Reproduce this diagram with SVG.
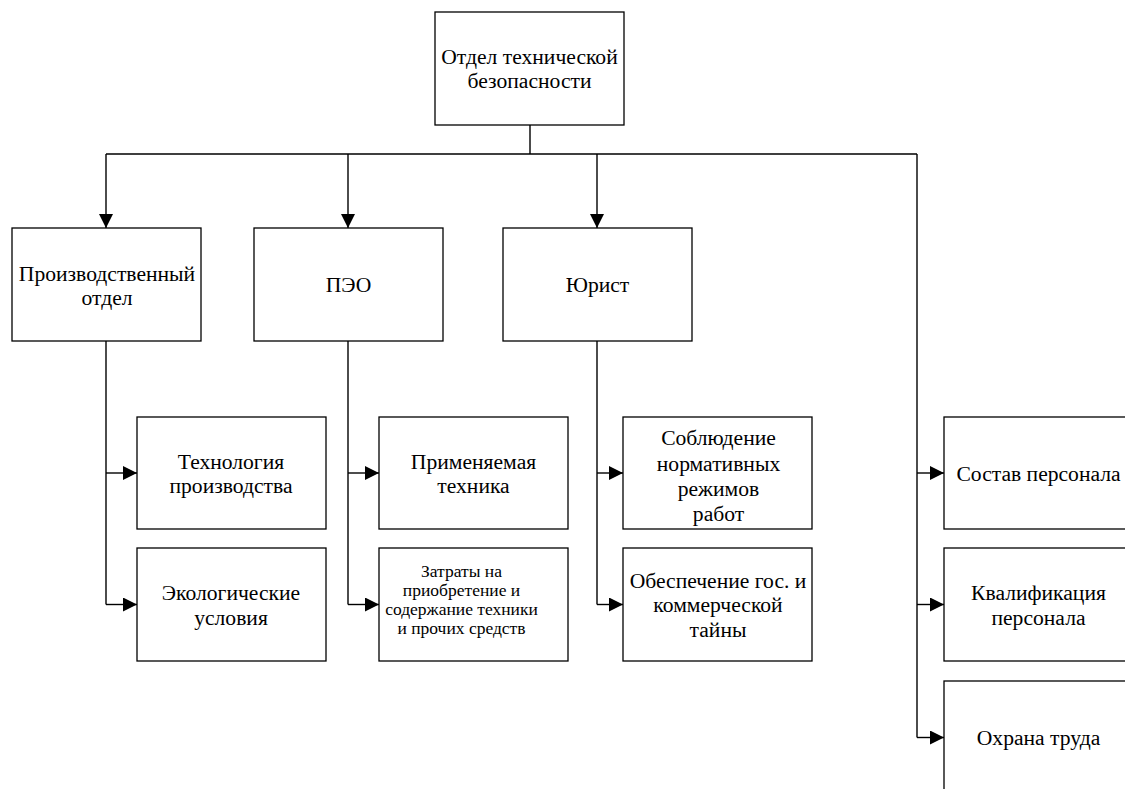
<svg xmlns="http://www.w3.org/2000/svg" width="1125" height="789" viewBox="0 0 1125 789">
<style>
.box{fill:#fff;stroke:#000;stroke-width:1.3}
.t{font-family:'Liberation Serif','Times New Roman',serif;font-size:21.6px;fill:#000;text-anchor:middle}
.s{font-size:17.5px}
.c{fill:none;stroke:#000;stroke-width:1.4}
</style>
<defs>
<marker id="arr" markerUnits="userSpaceOnUse" markerWidth="14" markerHeight="14" refX="14" refY="7" orient="auto">
<path d="M0,0 L14,7 L0,14 z" fill="#000"/>
</marker>
</defs>
<rect width="1125" height="789" fill="#fff"/>
<g id="connectors">
<path class="c" d="M530,125 V154 M106,154 H917"/>
<path class="c" d="M106,154 V228" marker-end="url(#arr)"/>
<path class="c" d="M348,154 V228" marker-end="url(#arr)"/>
<path class="c" d="M597,154 V228" marker-end="url(#arr)"/>
<path class="c" d="M917,154 V737.5"/>
<path class="c" d="M917,473 H944" marker-end="url(#arr)"/>
<path class="c" d="M917,604.5 H944" marker-end="url(#arr)"/>
<path class="c" d="M917,737.5 H944" marker-end="url(#arr)"/>
<path class="c" d="M106,341 V604.5"/>
<path class="c" d="M106,473 H137" marker-end="url(#arr)"/>
<path class="c" d="M106,604.5 H137" marker-end="url(#arr)"/>
<path class="c" d="M348,341 V604.5"/>
<path class="c" d="M348,473 H379" marker-end="url(#arr)"/>
<path class="c" d="M348,604.5 H379" marker-end="url(#arr)"/>
<path class="c" d="M597,341 V604.5"/>
<path class="c" d="M597,473 H623" marker-end="url(#arr)"/>
<path class="c" d="M597,604.5 H623" marker-end="url(#arr)"/>
</g>
<g id="root">
<rect class="box" x="435" y="12" width="189" height="113"/>
<text class="t" x="529.5" y="64">Отдел технической</text>
<text class="t" x="529.5" y="88">безопасности</text>
</g>
<g id="prod">
<rect class="box" x="12" y="228" width="189" height="113"/>
<text class="t" x="107" y="280.5">Производственный</text>
<text class="t" x="107" y="305">отдел</text>
</g>
<g id="peo">
<rect class="box" x="254" y="228" width="189" height="113"/>
<text class="t" x="348.5" y="292">ПЭО</text>
</g>
<g id="jurist">
<rect class="box" x="503" y="228" width="189" height="113"/>
<text class="t" x="597.5" y="292">Юрист</text>
</g>
<g id="tech">
<rect class="box" x="137" y="417" width="189" height="112"/>
<text class="t" x="231" y="468.5">Технология</text>
<text class="t" x="231" y="493">производства</text>
</g>
<g id="eco">
<rect class="box" x="137" y="548" width="189" height="113"/>
<text class="t" x="231" y="600">Экологические</text>
<text class="t" x="231" y="624.5">условия</text>
</g>
<g id="primen">
<rect class="box" x="379" y="417" width="189" height="112"/>
<text class="t" x="473.5" y="468.5">Применяемая</text>
<text class="t" x="473.5" y="493">техника</text>
</g>
<g id="zatraty">
<rect class="box" x="379" y="548" width="189" height="113"/>
<text class="t s" x="461.5" y="577">Затраты на</text>
<text class="t s" x="461.5" y="596">приобретение и</text>
<text class="t s" x="461.5" y="615">содержание техники</text>
<text class="t s" x="461.5" y="634">и прочих средств</text>
</g>
<g id="soblyud">
<rect class="box" x="623" y="417" width="189" height="112"/>
<text class="t" x="718.5" y="445">Соблюдение</text>
<text class="t" x="718.5" y="470.5">нормативных</text>
<text class="t" x="718.5" y="496">режимов</text>
<text class="t" x="718.5" y="521">работ</text>
</g>
<g id="taina">
<rect class="box" x="623" y="548" width="189" height="113"/>
<text class="t" x="718" y="587.5">Обеспечение гос. и</text>
<text class="t" x="718" y="612">коммерческой</text>
<text class="t" x="718" y="636.5">тайны</text>
</g>
<g id="sostav">
<rect class="box" x="944" y="417" width="189" height="112"/>
<text class="t" x="1038.5" y="480.5">Состав персонала</text>
</g>
<g id="kval">
<rect class="box" x="944" y="548" width="189" height="113"/>
<text class="t" x="1038.5" y="600">Квалификация</text>
<text class="t" x="1038.5" y="624.5">персонала</text>
</g>
<g id="ohrana">
<rect class="box" x="944" y="681" width="189" height="113"/>
<text class="t" x="1038.5" y="745">Охрана труда</text>
</g>
</svg>
